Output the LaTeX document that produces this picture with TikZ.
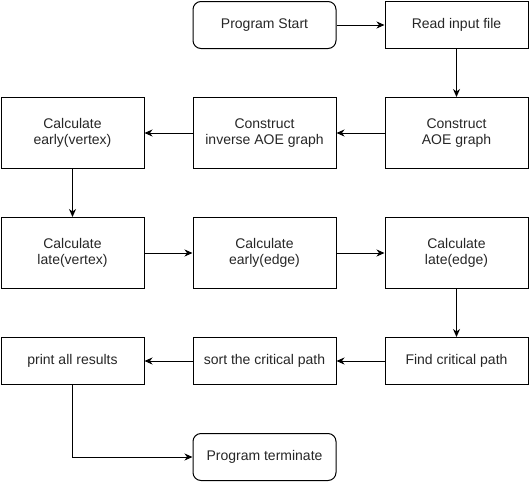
\documentclass[tikz,border=0pt]{standalone}
\usepackage{fontspec}
\setmainfont{Liberation Sans}
\usetikzlibrary{arrows.meta}
\begin{document}
\begin{tikzpicture}[x=1pt,y=-1pt,
  box/.style={draw,line width=1pt,minimum width=143pt,anchor=north west,inner sep=0pt,align=center,font=\fontsize{14}{16.5}\selectfont,text=black!85},
  tall/.style={box,minimum height=71pt},
  short/.style={box,minimum height=47pt},
  term/.style={short,rounded corners=8pt},
  arr/.style={line width=1pt,-{Stealth[length=8pt,width=7pt,inset=2.5pt]}}]
\useasboundingbox (0,0) rectangle (530,482);
\node[term] (start) at (192.5,1) {Program Start};
\node[short] (read) at (384.5,1) {Read input file};
\node[tall] (aoe) at (384.5,97) {Construct\\AOE graph};
\node[tall] (inv) at (192.5,97) {Construct\\inverse AOE graph};
\node[tall] (ev) at (0.5,97) {Calculate\\early(vertex)};
\node[tall] (lv) at (0.5,217) {Calculate\\late(vertex)};
\node[tall] (ee) at (192.5,217) {Calculate\\early(edge)};
\node[tall] (le) at (384.5,217) {Calculate\\late(edge)};
\node[short] (find) at (384.5,337) {Find critical path};
\node[short] (sort) at (192.5,337) {sort the critical path};
\node[short] (print) at (0.5,337) {print all results};
\node[term] (term) at (192.5,433) {Program terminate};
\draw[arr] (start) -- (read);
\draw[arr] (read) -- (aoe);
\draw[arr] (aoe) -- (inv);
\draw[arr] (inv) -- (ev);
\draw[arr] (ev) -- (lv);
\draw[arr] (lv) -- (ee);
\draw[arr] (ee) -- (le);
\draw[arr] (le) -- (find);
\draw[arr] (find) -- (sort);
\draw[arr] (sort) -- (print);
\draw[arr] (print.south) |- (term.west);
\end{tikzpicture}
\end{document}
